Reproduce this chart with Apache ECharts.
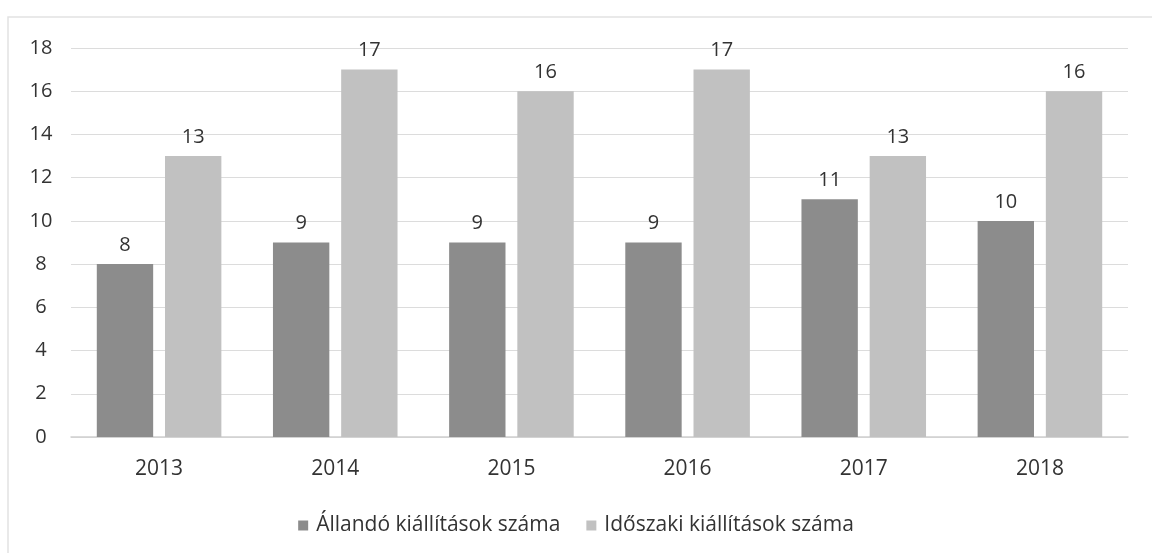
<!DOCTYPE html>
<html>
<head>
<meta charset="utf-8">
<script src="https://cdn.jsdelivr.net/npm/echarts@6/dist/echarts.min.js"></script>
<style>
  html, body { margin: 0; padding: 0; background: #ffffff; }
  #chart { width: 1152px; height: 553px; }
</style>
</head>
<body>
<div id="chart"></div>
<script>
// Kiállítások száma évenként
const years = ['2013', '2014', '2015', '2016', '2017', '2018'];
const allando = [8, 9, 9, 9, 11, 10];
const idoszaki = [13, 17, 16, 17, 13, 16];
const seriesNames = ['Állandó kiállítások száma', 'Időszaki kiállítások száma'];

const FONT = '"Open Sans", "DejaVu Sans", sans-serif';
const chart = echarts.init(document.getElementById('chart'), null, { renderer: 'canvas' });

chart.setOption({
  backgroundColor: '#ffffff',
  animation: false,
  textStyle: { fontFamily: FONT, color: '#333333' },
  graphic: [{
    type: 'rect',
    shape: { x: 8, y: 17, width: 1160, height: 560 },
    style: { fill: 'none', stroke: '#e2e2e2', lineWidth: 1.5 },
    silent: true
  }],
  grid: { left: 71, right: 24, top: 48, bottom: 116, containLabel: false },
  legend: {
    bottom: 12,
    left: 'center',
    itemWidth: 10,
    itemHeight: 10,
    itemGap: 26,
    icon: 'rect',
    textStyle: { fontFamily: FONT, fontSize: 21, color: '#333333', padding: [0, 0, 0, 3] },
    data: seriesNames
  },
  xAxis: {
    type: 'category',
    data: years,
    axisLine: { lineStyle: { color: '#cfcfcf', width: 1.5 } },
    axisTick: { show: false },
    axisLabel: { fontFamily: FONT, fontSize: 21, color: '#333333', margin: 22 }
  },
  yAxis: {
    type: 'value',
    min: 0,
    max: 18,
    interval: 2,
    axisLine: { show: false },
    axisTick: { show: false },
    splitLine: { lineStyle: { color: '#dcdcdc', width: 1.2 } },
    axisLabel: { fontFamily: FONT, fontSize: 20, color: '#333333', margin: 30, align: 'center' }
  },
  series: [
    {
      name: seriesNames[0],
      type: 'bar',
      data: allando,
      barWidth: '32%',
      barGap: '21%',
      itemStyle: { color: '#8c8c8c' },
      label: { show: true, position: 'top', distance: 9, fontFamily: FONT, fontSize: 20, color: '#333333' }
    },
    {
      name: seriesNames[1],
      type: 'bar',
      data: idoszaki,
      barWidth: '32%',
      itemStyle: { color: '#c1c1c1' },
      label: { show: true, position: 'top', distance: 9, fontFamily: FONT, fontSize: 20, color: '#333333' }
    }
  ]
});
</script>
</body>
</html>
